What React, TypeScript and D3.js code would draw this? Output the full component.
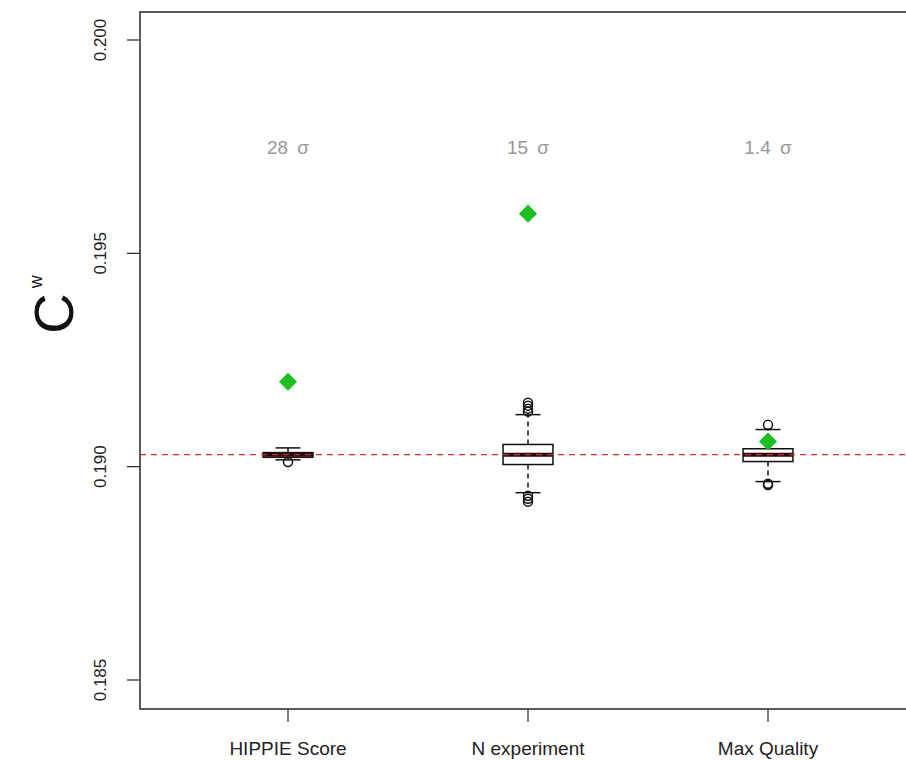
import React from "react";
import * as d3 from "d3";

const categories = ["HIPPIE Score", "N experiment", "Max Quality"];
const sigmaLabels = ["28 σ", "15 σ", "1.4 σ"];
const observed = [0.19199, 0.19593, 0.19059];
const q1 = [0.19022, 0.19005, 0.19012];
const medians = [0.19028, 0.19028, 0.19028];
const q3 = [0.19033, 0.19052, 0.19042];
const whiskerLow = [0.19016, 0.18939, 0.18965];
const whiskerHigh = [0.19044, 0.19122, 0.19087];
const outliers = [
  [0.19011],
  [0.1915, 0.19143, 0.19136, 0.19129, 0.18932, 0.18925, 0.18918],
  [0.19098, 0.1896, 0.18957],
];
const nullMean = 0.19028;
const yTicks = [0.185, 0.19, 0.195, 0.2];
const sigmaY = 0.1975;

const W = 906;
const H = 760;
const left = 140;
const top = 12;
const bottom = 709;

export default function App() {
  const x = d3.scaleLinear().domain([1, 3]).range([288, 768]);
  const y = d3.scaleLinear().domain([0.185, 0.2]).range([680, 40]);
  const boxHalf = 0.104;
  const capHalf = 0.052;
  const font = "'Liberation Sans', Arial, Helvetica, sans-serif";
  const diamond = d3.symbol().type(d3.symbolDiamond2).size(210)();

  return (
    <div style={{ position: "absolute", left: 0, top: 0 }}>
      <svg width={W} height={H} style={{ display: "block", background: "#fff" }} fontFamily={font}>
        {/* frame */}
        <rect x={left} y={top} width={W + 20 - left} height={bottom - top} fill="none" stroke="#333" strokeWidth={1.6} />
        {/* y ticks */}
        {yTicks.map((t) => (
          <g key={t}>
            <line x1={left - 13} x2={left} y1={y(t)} y2={y(t)} stroke="#333" strokeWidth={1.3} />
            <text
              transform={`translate(106,${y(t)}) rotate(-90)`}
              textAnchor="middle"
              fontSize={17}
              fill="#222"
            >
              {d3.format(".3f")(t)}
            </text>
          </g>
        ))}
        {/* y label */}
        <text transform={`translate(73,${y(0.1938)}) rotate(-90)`} textAnchor="middle" fontSize={56} fill="#111">
          C
          <tspan fontSize={18} dy={-31} dx={5}>w</tspan>
        </text>
        {/* x ticks */}
        {categories.map((c, i) => (
          <g key={c}>
            <line x1={x(i + 1)} x2={x(i + 1)} y1={bottom} y2={bottom + 13} stroke="#333" strokeWidth={1.3} />
            <text x={x(i + 1)} y={755} textAnchor="middle" fontSize={19} fill="#222">
              {c}
            </text>
          </g>
        ))}
        {/* boxes */}
        {categories.map((c, i) => {
          const cx = x(i + 1);
          const bx0 = x(i + 1 - boxHalf);
          const bx1 = x(i + 1 + boxHalf);
          const cx0 = x(i + 1 - capHalf);
          const cx1 = x(i + 1 + capHalf);
          return (
            <g key={"b" + c}>
              <line x1={cx} x2={cx} y1={y(q3[i])} y2={y(whiskerHigh[i])} stroke="#111" strokeWidth={1.5} strokeDasharray="5,4" />
              <line x1={cx} x2={cx} y1={y(q1[i])} y2={y(whiskerLow[i])} stroke="#111" strokeWidth={1.5} strokeDasharray="5,4" />
              <line x1={cx0} x2={cx1} y1={y(whiskerHigh[i])} y2={y(whiskerHigh[i])} stroke="#111" strokeWidth={1.5} />
              <line x1={cx0} x2={cx1} y1={y(whiskerLow[i])} y2={y(whiskerLow[i])} stroke="#111" strokeWidth={1.5} />
              <rect x={bx0} y={y(q3[i])} width={bx1 - bx0} height={y(q1[i]) - y(q3[i])} fill="#fff" stroke="#111" strokeWidth={1.5} />
              <line x1={bx0} x2={bx1} y1={y(medians[i])} y2={y(medians[i])} stroke="#2a0808" strokeWidth={4} />
              {outliers[i].map((o, j) => (
                <circle key={j} cx={cx} cy={y(o)} r={4.5} fill="none" stroke="#111" strokeWidth={1.5} />
              ))}
            </g>
          );
        })}
        {/* null line */}
        <line x1={left} x2={W} y1={y(nullMean)} y2={y(nullMean)} stroke="#c8302a" strokeWidth={1.3} strokeDasharray="6,5" />
        {/* observed */}
        {categories.map((c, i) => (
          <path key={"o" + c} d={diamond} transform={`translate(${x(i + 1)},${y(observed[i])})`} fill="#1fbf1f" />
        ))}
        {/* sigma labels */}
        {sigmaLabels.map((s, i) => (
          <text key={s} x={x(i + 1)} y={y(sigmaY) + 7} textAnchor="middle" fontSize={19} fill="#999" wordSpacing={4}>
            {s}
          </text>
        ))}
      </svg>
    </div>
  );
}
